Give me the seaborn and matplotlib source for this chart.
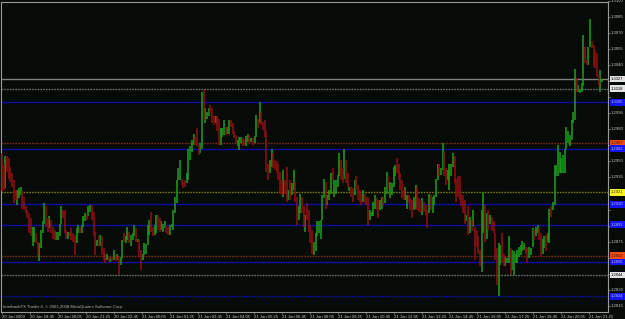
import numpy as np
import pandas as pd
import matplotlib
matplotlib.use("Agg")
import matplotlib.pyplot as plt
import matplotlib.transforms as mtransforms
import seaborn as sns

# ---------------- data (EURUSD-like M5 bars) ----------------
opens = [
    1.2958, 1.2947, 1.2925, 1.2955, 1.2953, 1.2945, 1.2939, 1.2933, 1.2923, 1.2909,
    1.2916, 1.2919, 1.2922, 1.2917, 1.2908, 1.2905, 1.2902, 1.2897, 1.2871, 1.2875,
    1.2883, 1.2875, 1.2857, 1.2869, 1.2883, 1.2892, 1.2908, 1.2897, 1.2888, 1.2895,
    1.2889, 1.2886, 1.2877, 1.2877, 1.2880, 1.2892, 1.2905, 1.2905, 1.2886, 1.2878,
    1.2884, 1.2888, 1.2883, 1.2881, 1.2874, 1.2883, 1.2889, 1.2883, 1.2889, 1.2894,
    1.2900, 1.2899, 1.2903, 1.2909, 1.2903, 1.2884, 1.2871, 1.2880, 1.2871, 1.2880,
    1.2869, 1.2864, 1.2858, 1.2861, 1.2856, 1.2861, 1.2858, 1.2863, 1.2858, 1.2861,
    1.2853, 1.2860, 1.2883, 1.2874, 1.2877, 1.2884, 1.2871, 1.2877, 1.2880, 1.2888,
    1.2875, 1.2877, 1.2867, 1.2858, 1.2863, 1.2864, 1.2872,
    1.2881, 1.2903, 1.2889, 1.2881, 1.2883, 1.2900, 1.2897, 1.2886, 1.2884, 1.2888,
    1.2891, 1.2889, 1.2881, 1.2889, 1.2886, 1.2902, 1.2911, 1.2933, 1.2933, 1.2934,
    1.2931, 1.2933, 1.2930, 1.2933, 1.2951, 1.2959, 1.2965, 1.2973, 1.2981, 1.2965,
    1.2958, 1.2962, 1.3017, 1.2986, 1.2990, 1.2992, 1.3003, 1.3000, 1.2992, 1.2986,
    1.2992, 1.2990, 1.2965, 1.2973, 1.2975, 1.2982, 1.2976, 1.2976, 1.2989, 1.2986,
    1.2978, 1.2975, 1.2964, 1.2961, 1.2967, 1.2972, 1.2970, 1.2964, 1.2968, 1.2975,
    1.2968, 1.2972, 1.2967, 1.2973, 1.2990, 1.2986, 1.2996, 1.2987, 1.2989, 1.2978,
    1.2948, 1.2939, 1.2945, 1.2958, 1.2951, 1.2950, 1.2948, 1.2940, 1.2933, 1.2917,
    1.2933, 1.2945, 1.2914, 1.2933, 1.2919, 1.2923, 1.2931, 1.2917, 1.2895, 1.2902,
    1.2917, 1.2908, 1.2884, 1.2911, 1.2905, 1.2891, 1.2886, 1.2863, 1.2866, 1.2880,
    1.2883, 1.2878, 1.2895, 1.2916, 1.2931, 1.2909, 1.2914, 1.2920, 1.2944, 1.2917,
    1.2920, 1.2926, 1.2936, 1.2951, 1.2944, 1.2934, 1.2951, 1.2939, 1.2922, 1.2926,
    1.2925, 1.2919, 1.2936, 1.2928, 1.2923, 1.2920, 1.2912, 1.2920, 1.2917, 1.2917,
    1.2895, 1.2899, 1.2899, 1.2906, 1.2916, 1.2914, 1.2905, 1.2906, 1.2917, 1.2911,
    1.2920, 1.2936, 1.2916, 1.2919, 1.2926, 1.2936, 1.2953, 1.2948, 1.2939, 1.2933,
    1.2923, 1.2914, 1.2906, 1.2919, 1.2916, 1.2914, 1.2905, 1.2906, 1.2926, 1.2916,
    1.2914, 1.2900, 1.2912, 1.2909, 1.2905, 1.2902, 1.2919, 1.2902, 1.2909, 1.2917,
    1.2933, 1.2948, 1.2937, 1.2942, 1.2959, 1.2944, 1.2933, 1.2923, 1.2936, 1.2945,
    1.2955, 1.2934, 1.2936, 1.2936, 1.2920, 1.2919, 1.2914, 1.2894, 1.2908, 1.2883,
    1.2895, 1.2889, 1.2889, 1.2886, 1.2880, 1.2867, 1.2847, 1.2883, 1.2909, 1.2878,
    1.2905, 1.2892, 1.2898, 1.2894, 1.2883, 1.2869, 1.2824, 1.2853, 1.2883, 1.2864,
    1.2852, 1.2855, 1.2855, 1.2869, 1.2849, 1.2844, 1.2855, 1.2855, 1.2861, 1.2863,
    1.2866, 1.2867, 1.2870, 1.2869, 1.2860, 1.2863, 1.2870, 1.2886, 1.2880, 1.2883,
    1.2888, 1.2883, 1.2864, 1.2869, 1.2881, 1.2875, 1.2874, 1.2908, 1.2905, 1.2909,
    1.2936, 1.2936, 1.2939, 1.2939, 1.2939, 1.2939, 1.2962, 1.2967, 1.2964, 1.2970,
    1.2986, 1.2989, 1.3028, 1.3015, 1.3014, 1.3015, 1.3020, 1.3057, 1.3045, 1.3040,
    1.3057, 1.3062, 1.3059, 1.3054, 1.3051, 1.3031, 1.3015, 1.3024,
]
closes = [
    1.2922, 1.2923, 1.2955, 1.2940, 1.2934, 1.2931, 1.2926, 1.2911, 1.2914, 1.2923,
    1.2925, 1.2926, 1.2906, 1.2905, 1.2902, 1.2897, 1.2883, 1.2880, 1.2889, 1.2889,
    1.2874, 1.2863, 1.2874, 1.2886, 1.2894, 1.2911, 1.2889, 1.2884, 1.2899, 1.2883,
    1.2878, 1.2877, 1.2884, 1.2884, 1.2892, 1.2908, 1.2897, 1.2883, 1.2878, 1.2884,
    1.2880, 1.2877, 1.2875, 1.2863, 1.2888, 1.2891, 1.2883, 1.2891, 1.2899, 1.2902,
    1.2895, 1.2908, 1.2909, 1.2895, 1.2880, 1.2863, 1.2877, 1.2871, 1.2881, 1.2863,
    1.2858, 1.2855, 1.2864, 1.2857, 1.2860, 1.2857, 1.2867, 1.2857, 1.2864, 1.2844,
    1.2861, 1.2877, 1.2875, 1.2880, 1.2889, 1.2874, 1.2881, 1.2883, 1.2891, 1.2875,
    1.2878, 1.2861, 1.2849, 1.2864, 1.2874, 1.2873, 1.2891,
    1.2895, 1.2884, 1.2880, 1.2891, 1.2900, 1.2886, 1.2884, 1.2894, 1.2892, 1.2894,
    1.2883, 1.2881, 1.2891, 1.2892, 1.2905, 1.2917, 1.2933, 1.2944, 1.2951, 1.2928,
    1.2925, 1.2926, 1.2939, 1.2962, 1.2964, 1.2970, 1.2976, 1.2965, 1.2964, 1.2956,
    1.2967, 1.3015, 1.2989, 1.3000, 1.2996, 1.3000, 1.2995, 1.2986, 1.2984, 1.2992,
    1.2978, 1.2965, 1.2981, 1.2981, 1.2989, 1.2975, 1.2982, 1.2989, 1.2982, 1.2976,
    1.2972, 1.2967, 1.2970, 1.2973, 1.2973, 1.2964, 1.2965, 1.2974, 1.2976, 1.2967,
    1.2972, 1.2965, 1.2974, 1.2993, 1.2981, 1.3005, 1.2984, 1.2979, 1.2973, 1.2940,
    1.2933, 1.2951, 1.2962, 1.2944, 1.2942, 1.2939, 1.2933, 1.2920, 1.2919, 1.2942,
    1.2920, 1.2912, 1.2923, 1.2914, 1.2930, 1.2942, 1.2912, 1.2891, 1.2908, 1.2920,
    1.2902, 1.2889, 1.2900, 1.2895, 1.2884, 1.2874, 1.2864, 1.2875, 1.2883, 1.2894,
    1.2894, 1.2895, 1.2919, 1.2934, 1.2906, 1.2919, 1.2923, 1.2939, 1.2933, 1.2933,
    1.2933, 1.2937, 1.2958, 1.2933, 1.2930, 1.2962, 1.2930, 1.2926, 1.2926, 1.2917,
    1.2912, 1.2933, 1.2923, 1.2914, 1.2912, 1.2909, 1.2923, 1.2911, 1.2909, 1.2891,
    1.2905, 1.2903, 1.2912, 1.2919, 1.2905, 1.2897, 1.2914, 1.2917, 1.2908, 1.2926,
    1.2940, 1.2923, 1.2931, 1.2930, 1.2945, 1.2947, 1.2939, 1.2933, 1.2923, 1.2916,
    1.2914, 1.2926, 1.2919, 1.2911, 1.2905, 1.2897, 1.2917, 1.2928, 1.2905, 1.2903,
    1.2902, 1.2916, 1.2903, 1.2900, 1.2888, 1.2920, 1.2905, 1.2917, 1.2919, 1.2934,
    1.2948, 1.2936, 1.2944, 1.2967, 1.2936, 1.2928, 1.2942, 1.2948, 1.2948, 1.2958,
    1.2930, 1.2912, 1.2917, 1.2914, 1.2908, 1.2902, 1.2892, 1.2900, 1.2881, 1.2898,
    1.2885, 1.2905, 1.2858, 1.2870, 1.2864, 1.2852, 1.2905, 1.2921, 1.2875, 1.2902,
    1.2886, 1.2900, 1.2885, 1.2883, 1.2858, 1.2835, 1.2874, 1.2872, 1.2855, 1.2852,
    1.2861, 1.2860, 1.2880, 1.2844, 1.2867, 1.2866, 1.2864, 1.2867, 1.2870, 1.2872,
    1.2876, 1.2874, 1.2864, 1.2855, 1.2870, 1.2869, 1.2888, 1.2877, 1.2889, 1.2891,
    1.2877, 1.2861, 1.2878, 1.2880, 1.2866, 1.2883, 1.2906, 1.2898, 1.2912, 1.2947,
    1.2947, 1.2965, 1.2959, 1.2953, 1.2956, 1.2962, 1.2982, 1.2978, 1.2975, 1.2989,
    1.2996, 1.3036, 1.3015, 1.3021, 1.3018, 1.3023, 1.3068, 1.3042, 1.3040, 1.3057,
    1.3083, 1.3056, 1.3038, 1.3037, 1.3029, 1.3020, 1.3035, 1.3027,
]
time_labels = [
    "20 Jan 2009", "20 Jan 18:45", "20 Jan 20:05", "20 Jan 21:25", "20 Jan 22:45",
    "21 Jan 00:05", "21 Jan 01:25", "21 Jan 02:45", "21 Jan 04:05", "21 Jan 05:25",
    "21 Jan 06:45", "21 Jan 08:05", "21 Jan 09:25", "21 Jan 10:45", "21 Jan 12:05",
    "21 Jan 13:25", "21 Jan 14:45", "21 Jan 16:05", "21 Jan 17:25", "21 Jan 18:45",
    "21 Jan 20:05", "21 Jan 21:25",
]
price_ticks = [1.3100, 1.3085, 1.3070, 1.3055, 1.3040, 1.3025, 1.3010, 1.2995,
               1.2980, 1.2965, 1.2950, 1.2935, 1.2920, 1.2905, 1.2890, 1.2875,
               1.2860, 1.2845, 1.2830, 1.2815]
level_prices = [1.3027, 1.3018, 1.3005, 1.2967, 1.2962, 1.2921,
                1.2910, 1.2891, 1.2862, 1.2856, 1.2844, 1.2824]
level_kinds = ["bid", "gray", "blue", "orange", "blue", "yellow",
               "blue", "blue", "orange", "blue", "gray", "bluedot"]
copyright_text = "InterbankFX Trader 4, \u00a9 2001-2008 MetaQuotes Software Corp."

# ---------------- styling ----------------
BG = "#070b07"
AXC = "#9a9a9a"
TXT = "#c4c4c4"
UP = "#1c9a1c"
DOWN = "#8e1010"
DOT = (0, (1.2, 0.8))
styles = {
    "bid":     dict(c="#7e7e7e", ls="-", face="#e4e4e4", tc="#000000"),
    "gray":    dict(c="#6e6e6e", ls=DOT, face="#e4e4e4", tc="#000000"),
    "blue":    dict(c="#0c0ca6", ls="-", face="#1414f0", tc="#b4b4ff"),
    "bluedot": dict(c="#0c0cb0", ls=DOT, face="#1414f0", tc="#b4b4ff"),
    "orange":  dict(c="#7a2a14", ls=DOT, face="#f04a14", tc="#5a1000"),
    "yellow":  dict(c="#76760a", ls=DOT, face="#f4f41c", tc="#3a3a00"),
}

sns.set_theme(style="dark", rc={"axes.facecolor": BG, "figure.facecolor": BG,
                                "savefig.facecolor": BG})
plt.rcParams["font.family"] = ["Liberation Sans", "DejaVu Sans"]

df = pd.DataFrame({"bar": np.arange(len(opens)), "open": opens, "close": closes})
df["lo"] = df[["open", "close"]].min(axis=1)
df["hi"] = df[["open", "close"]].max(axis=1)
df["up"] = df["close"] >= df["open"]

W, H = 625, 319
fig = plt.figure(figsize=(W / 100, H / 100), dpi=100, facecolor=BG)
left_px, right_px, top_px, bot_px = 1, 608, 1.5, 312
ax = fig.add_axes([left_px / W, (H - bot_px) / H, (right_px - left_px) / W,
                   (bot_px - top_px) / H])
ax.set_facecolor(BG)
ax.grid(False)

px_per_bar = 1.695
ax.set_xlim(-(2 - left_px) / px_per_bar, (right_px - 2) / px_per_bar)
ax.set_ylim(1.28095, 1.30992)

# level lines
for p, k in zip(level_prices, level_kinds):
    s = styles[k]
    ax.axhline(p, color=s["c"], lw=1.0, ls=s["ls"], zorder=1)

# candles
for up, color in [(True, UP), (False, DOWN)]:
    sub = df[df["up"] == up]
    ax.vlines(sub["bar"], sub["lo"], sub["hi"], color=color, lw=1.15, zorder=3)

# spines
for sp in ax.spines.values():
    sp.set_color(AXC)
    sp.set_linewidth(0.8)
    sp.set_visible(True)

# time axis
ax.set_xticks(np.arange(len(time_labels)) * 16.5)
ax.set_xticklabels(time_labels)
ax.tick_params(axis="x", colors=AXC, length=1.5, width=0.5, pad=0.6,
               labelsize=3.1, labelcolor=TXT, bottom=True, direction="out")
for lab in ax.get_xticklabels():
    lab.set_ha("left")
ax.set_yticks([])

# price axis (manual, so the top label is kept); labels hidden by level boxes are skipped
blend = mtransforms.blended_transform_factory(ax.transAxes, ax.transData)
xlab = (611 - left_px) / (right_px - left_px)
for p in price_ticks:
    ax.plot([1.0, 1.004], [p, p], transform=blend, color=AXC, lw=0.5, clip_on=False)
    if min(abs(p - q) for q in level_prices) < 0.00055:
        continue
    ax.text(xlab, p, f"{p:.4f}", transform=blend, fontsize=3.1, color=TXT,
            ha="left", va="center", clip_on=False, zorder=5)

# level price boxes
for p, k in zip(level_prices, level_kinds):
    s = styles[k]
    ax.text(xlab, p, f"{p:.4f}", transform=blend, fontsize=3.0, color=s["tc"],
            ha="left", va="center", clip_on=False, zorder=8,
            bbox=dict(boxstyle="square,pad=0.3", fc=s["face"], ec="none"))

ax.text(0.003, 0.017, copyright_text, transform=ax.transAxes, fontsize=3.1,
        color="#b0b0b0", ha="left", va="center", zorder=6)

fig.savefig("out.png", dpi=100, facecolor=BG)
